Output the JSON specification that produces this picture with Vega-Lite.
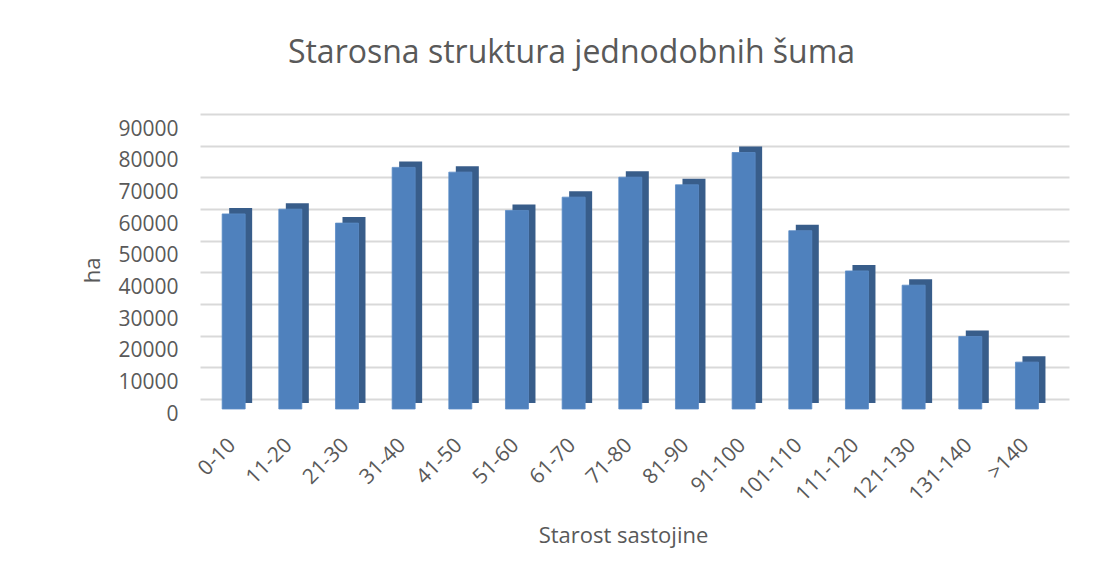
{
  "$schema": "https://vega.github.io/schema/vega-lite/v6.json",
  "autosize": "none",
  "width": 869,
  "height": 285,
  "padding": {"left": 200, "top": 124, "right": 46, "bottom": 171},
  "background": "white",
  "config": {
    "view": {"stroke": null},
    "font": "Open Sans"
  },
  "title": {
    "text": "Starosna struktura jednodobnih šuma",
    "font": "Open Sans",
    "fontSize": 32,
    "fontWeight": "normal",
    "color": "#595959",
    "anchor": "middle",
    "frame": "group",
    "dx": -63,
    "offset": 48
  },
  "data": {
    "values": [
      {"starost": "0-10", "ha": 61600},
      {"starost": "11-20", "ha": 63100},
      {"starost": "21-30", "ha": 58700},
      {"starost": "31-40", "ha": 76300},
      {"starost": "41-50", "ha": 74800},
      {"starost": "51-60", "ha": 62700},
      {"starost": "61-70", "ha": 66900},
      {"starost": "71-80", "ha": 73200},
      {"starost": "81-90", "ha": 70800},
      {"starost": "91-100", "ha": 81000},
      {"starost": "101-110", "ha": 56300},
      {"starost": "111-120", "ha": 43600},
      {"starost": "121-130", "ha": 39100},
      {"starost": "131-140", "ha": 22900},
      {"starost": ">140", "ha": 14800}
    ]
  },
  "encoding": {
    "x": {
      "field": "starost",
      "type": "nominal",
      "sort": null,
      "scale": {"paddingInner": 0, "paddingOuter": 0.168, "align": 0.28},
      "axis": {
        "title": "Starost sastojine",
        "titleFont": "Open Sans",
        "titleFontSize": 22,
        "titleFontWeight": "normal",
        "titleColor": "#595959",
        "titleX": 423,
        "titleY": 126,
        "titleAlign": "center",
        "titleBaseline": "middle",
        "labelAngle": -45,
        "labelFont": "Open Sans",
        "labelFontSize": 21,
        "labelColor": "#595959",
        "labelPadding": 25,
        "labelOffset": -9,
        "ticks": false,
        "tickSize": 0,
        "domain": false,
        "grid": false
      }
    },
    "y": {
      "field": "ha",
      "type": "quantitative",
      "scale": {"domain": [0, 90000], "nice": false},
      "axis": {
        "title": "ha",
        "titleFont": "Open Sans",
        "titleFontSize": 22,
        "titleFontWeight": "normal",
        "titleColor": "#595959",
        "titleAngle": -90,
        "titleX": -108,
        "titleY": 146,
        "titleAlign": "center",
        "titleBaseline": "middle",
        "values": [0, 10000, 20000, 30000, 40000, 50000, 60000, 70000, 80000, 90000],
        "format": "d",
        "labelFont": "Open Sans",
        "labelFontSize": 21,
        "labelColor": "#595959",
        "labelPadding": 22,
        "ticks": false,
        "tickSize": 0,
        "domain": false,
        "grid": true,
        "gridColor": "#D9D9D9",
        "gridWidth": 1.8,
        "tickOffset": -10,
        "labelOffset": 15
      }
    }
  },
  "layer": [
    {
      "mark": {"type": "bar", "width": 23, "xOffset": 7, "yOffset": -6, "y2Offset": -6, "color": "#385D8A"}
    },
    {
      "mark": {"type": "bar", "width": 23, "color": "#4F81BD", "stroke": "#5A8BC6", "strokeWidth": 0.8}
    }
  ]
}
